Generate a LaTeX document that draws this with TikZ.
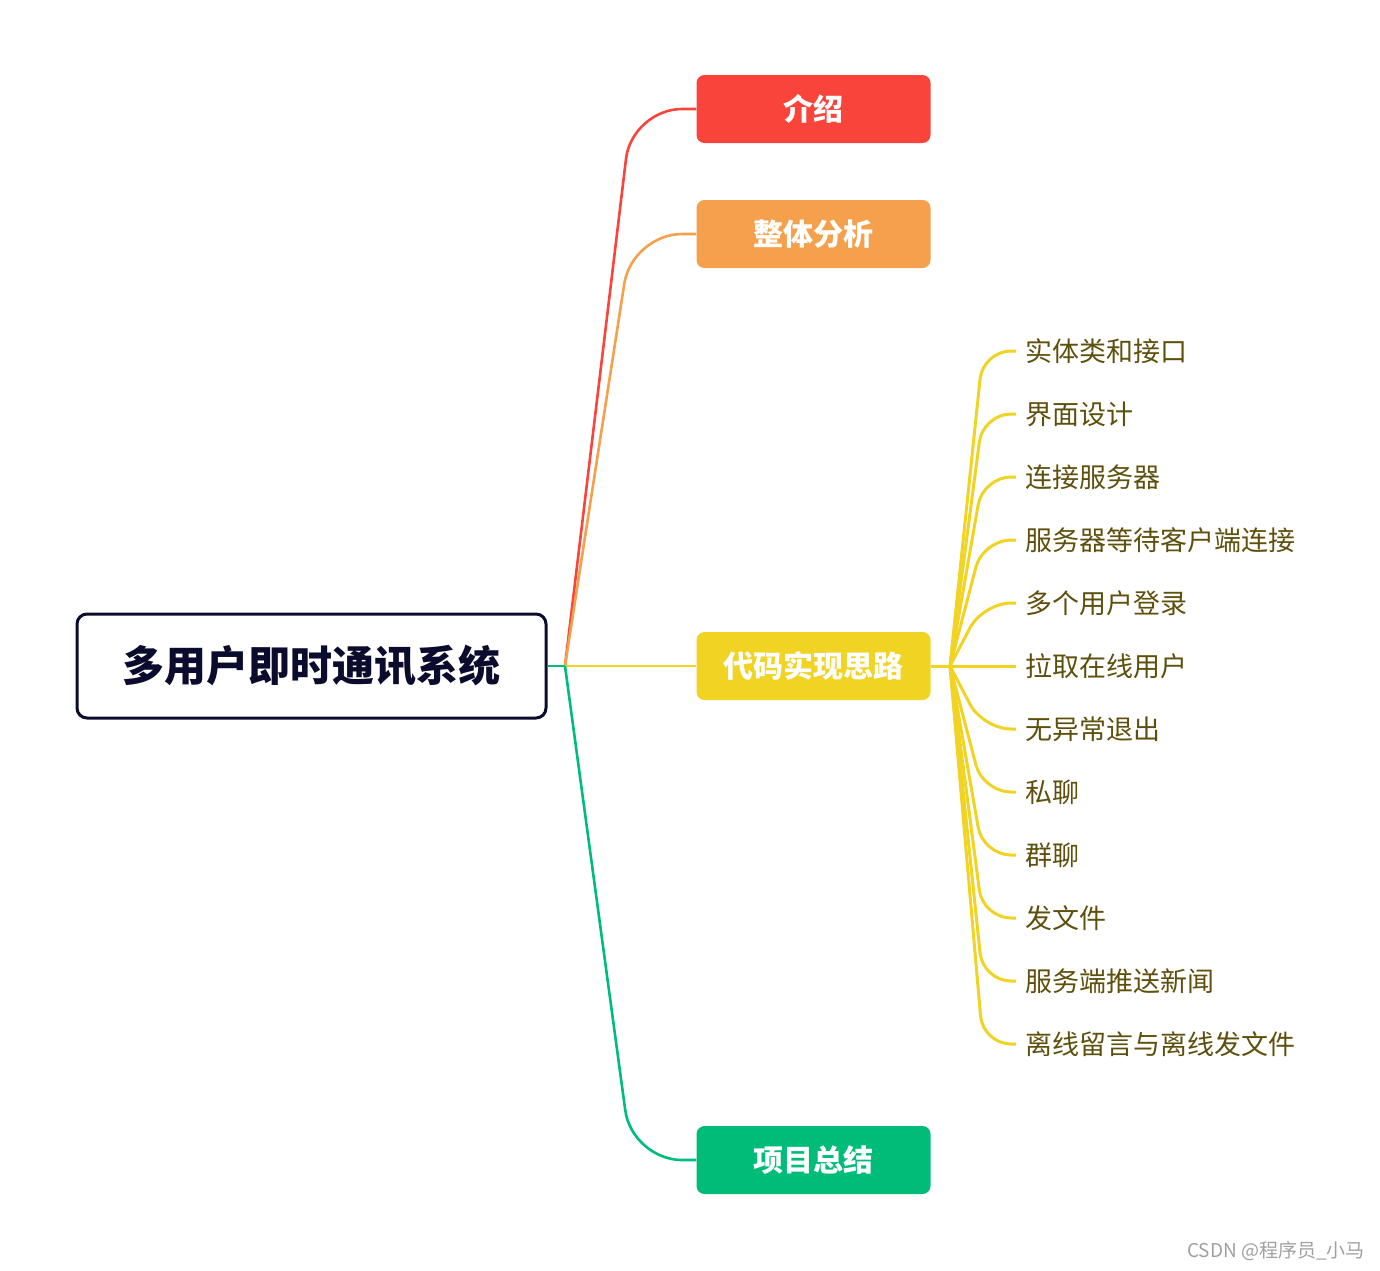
\documentclass[tikz,border=0pt]{standalone}
\usepackage{fontspec}
\setmainfont{Noto Sans CJK SC}
\usepackage{tikz}
\usetikzlibrary{positioning,calc}
\definecolor{mmred}{HTML}{F9443C}
\definecolor{mmorange}{HTML}{F5A04C}
\definecolor{mmyellow}{HTML}{F1D324}
\definecolor{mmgreen}{HTML}{00BC79}
\definecolor{mmnavy}{HTML}{0B0B2E}
\definecolor{mmolive}{HTML}{5E500C}
\definecolor{mmgray}{HTML}{A0A0A0}

\begin{document}
\begin{tikzpicture}[
  x=1pt,y=-1pt,
  R/.style={draw=mmnavy,line width=3pt,rounded corners=10pt,
            minimum width=469pt,minimum height=104pt,
            font=\fontsize{42}{48}\selectfont\bfseries,text=mmnavy},
  B/.style={rounded corners=8pt,minimum width=234pt,minimum height=68pt,
            font=\fontsize{30}{36}\selectfont\bfseries,text=white},
  S/.style={anchor=west,inner sep=0pt,text=mmolive,
            font=\fontsize{27}{31}\selectfont},
  ln/.style={line width=2.6pt,rounded corners=50pt},
  sl/.style={line width=3pt,mmyellow,rounded corners=28pt}
]
\useasboundingbox (0,0) rectangle (1380,1270);

\node[R] (root) at (311.5,666) {多用户即时通讯系统};
\node[B,fill=mmred]    (intro)  at (813.5,109)  {介绍};
\node[B,fill=mmorange] (anal)   at (813.5,234)  {整体分析};
\node[B,fill=mmyellow] (code)   at (813.5,666)  {代码实现思路};
\node[B,fill=mmgreen]  (summ)   at (813.5,1160) {项目总结};

\coordinate (hub) at (565,666);
\coordinate (fork) at (950,666);

% main branches
\draw[ln,mmred]    (hub) -- ([xshift=67pt]hub |- intro.west) -- (intro.west);
\draw[ln,mmorange] (hub) -- ([xshift=67pt]hub |- anal.west) -- (anal.west);
\draw[ln,mmyellow] (hub) -- (code.west);
\draw[ln,mmgreen]  (hub) -- ([xshift=67pt]hub |- summ.west) -- (summ.west);
\draw[line width=2.6pt,mmgreen] (root.east) -- (hub);

% sub items of code branch
\foreach \i/\t in {1/实体类和接口,2/界面设计,3/连接服务器,4/服务器等待客户端连接,
                   5/多个用户登录,6/拉取在线用户,7/无异常退出,8/私聊,9/群聊,
                   10/发文件,11/服务端推送新闻,12/离线留言与离线发文件}{
  \node[S] (s\i) at (1025,{351+63*(\i-1)}) {\t};
  \draw[sl] (fork) -- ([xshift=33pt]fork |- s\i.west) -- ([xshift=-9pt]s\i.west);
}
\draw[sl] (code.east) -- (fork);

\node[anchor=east,inner sep=0pt,text=mmgray,font=\fontsize{19}{22}\selectfont]
  (mark) at (1365,1251) {CSDN @程序员\_小马};
\end{tikzpicture}
\end{document}
